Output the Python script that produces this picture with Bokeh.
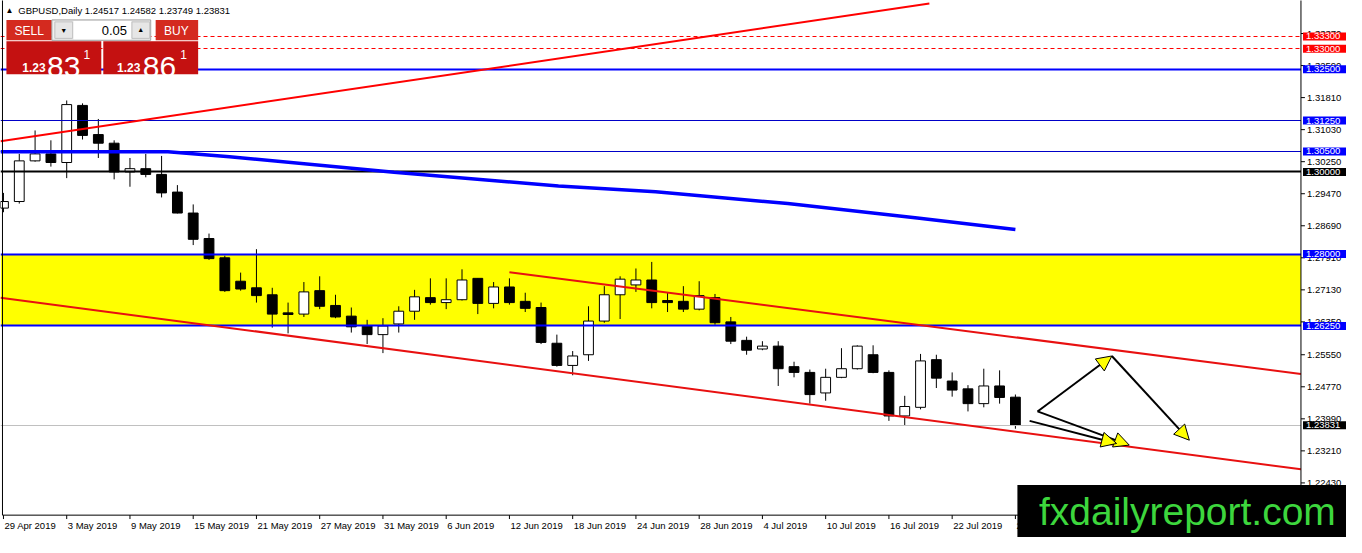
import pandas as pd
from bokeh.plotting import figure
from bokeh.models import BoxAnnotation, Label, Arrow, NormalHead, Range1d, ColumnDataSource
from bokeh.embed import file_html
from bokeh.resources import INLINE

# GBPUSD daily candles, 29 Apr 2019 - 26 Jul 2019
dates = pd.bdate_range("2019-04-29", "2019-07-26")

opens = [1.2912, 1.2928, 1.3027, 1.3044, 1.3023, 1.3162, 1.3091, 1.3070, 1.3000, 1.3008,
         1.2994, 1.2951, 1.2900, 1.2838, 1.2791, 1.2734, 1.2718, 1.2701, 1.2657, 1.2654,
         1.2711, 1.2675, 1.2649, 1.2625, 1.2604, 1.2630, 1.2661, 1.2694, 1.2682, 1.2689,
         1.2741, 1.2680, 1.2720, 1.2685, 1.2670, 1.2583, 1.2529, 1.2555, 1.2637, 1.2701,
         1.2725, 1.2737, 1.2687, 1.2685, 1.2666, 1.2694, 1.2635, 1.2590, 1.2569, 1.2576,
         1.2526, 1.2512, 1.2462, 1.2500, 1.2521, 1.2555, 1.2512, 1.2406, 1.2427, 1.2543,
         1.2491, 1.2472, 1.2436, 1.2479, 1.24517]
highs = [1.2949, 1.3044, 1.3101, 1.3077, 1.3174, 1.3167, 1.3129, 1.3077, 1.3034, 1.3044,
         1.3039, 1.2968, 1.2921, 1.2850, 1.2796, 1.2755, 1.2812, 1.2718, 1.2682, 1.2732,
         1.2746, 1.2701, 1.2670, 1.2640, 1.2644, 1.2673, 1.2713, 1.2741, 1.2741, 1.2763,
         1.2741, 1.2732, 1.2741, 1.2706, 1.2682, 1.2604, 1.2564, 1.2673, 1.2722, 1.2746,
         1.2765, 1.2781, 1.2706, 1.2722, 1.2734, 1.2703, 1.2647, 1.2599, 1.2588, 1.2588,
         1.2538, 1.2519, 1.2521, 1.2571, 1.2578, 1.2578, 1.2517, 1.2455, 1.2557, 1.2555,
         1.2512, 1.2481, 1.2521, 1.2517, 1.24582]
lows = [1.2902, 1.2923, 1.3025, 1.3013, 1.2985, 1.3079, 1.3034, 1.2982, 1.2964, 1.2987,
        1.2938, 1.2899, 1.2822, 1.2786, 1.2708, 1.2711, 1.2682, 1.2621, 1.2607, 1.2647,
        1.2666, 1.2644, 1.2609, 1.2581, 1.2559, 1.2609, 1.2640, 1.2677, 1.2666, 1.2687,
        1.2654, 1.2668, 1.2677, 1.2659, 1.2581, 1.2526, 1.2505, 1.2540, 1.2633, 1.2642,
        1.2708, 1.2668, 1.2659, 1.2659, 1.2663, 1.2628, 1.2581, 1.2555, 1.2566, 1.2479,
        1.2500, 1.2436, 1.2443, 1.2498, 1.2519, 1.2510, 1.2394, 1.2382, 1.2422, 1.2474,
        1.2453, 1.2417, 1.2427, 1.2436, 1.23749]
closes = [1.2928, 1.3027, 1.3044, 1.3023, 1.3164, 1.3089, 1.3070, 1.3000, 1.3008, 1.2994,
          1.2949, 1.2900, 1.2836, 1.2789, 1.2711, 1.2715, 1.2699, 1.2654, 1.2653, 1.2708,
          1.2673, 1.2647, 1.2623, 1.2604, 1.2625, 1.2661, 1.2696, 1.2682, 1.2689, 1.2737,
          1.2680, 1.2720, 1.2682, 1.2668, 1.2585, 1.2529, 1.2552, 1.2637, 1.2701, 1.2739,
          1.2737, 1.2682, 1.2682, 1.2666, 1.2699, 1.2633, 1.2588, 1.2566, 1.2576, 1.2521,
          1.2512, 1.2458, 1.2500, 1.2521, 1.2576, 1.2512, 1.2406, 1.2429, 1.2540, 1.2498,
          1.2469, 1.2436, 1.2479, 1.2451, 1.23831]

date_ticks = list(range(0, 65, 4))
date_labels = ["29 Apr 2019", "3 May 2019", "9 May 2019", "15 May 2019", "21 May 2019",
               "27 May 2019", "31 May 2019", "6 Jun 2019", "12 Jun 2019", "18 Jun 2019",
               "24 Jun 2019", "28 Jun 2019", "4 Jul 2019", "10 Jul 2019", "16 Jul 2019",
               "22 Jul 2019", "26 Jul 2019"]
price_ticks = [1.22430, 1.23210, 1.23990, 1.24770, 1.25550, 1.26350, 1.27130, 1.27910,
               1.28690, 1.29470, 1.30250, 1.31030, 1.31810, 1.32590, 1.33370]

# horizontal levels
level_prices = [1.33300, 1.33000, 1.32500, 1.31250, 1.30500, 1.30000, 1.28000, 1.26250, 1.23831]
level_colors = ["#ff0000", "#ff0000", "#0000ff", "#0000ff", "#0000ff", "#000000", "#0000ff", "#0000ff", "#000000"]
zone_low, zone_high = 1.2625, 1.2800

# trend lines (candle index, price)
rise_x, rise_y = [-0.19, 58.56], [1.3075, 1.3410]
chan_low_x, chan_low_y = [-0.19, 82.06], [1.2694, 1.2276]
chan_up_x, chan_up_y = [32.0, 82.06], [1.2756, 1.2508]
ma_x = [-0.19, 10.4, 14.3, 24.7, 35.1, 41.25, 49.6, 57.8, 64.0]
ma_y = [1.3049, 1.3049, 1.3037, 1.2999, 1.2966, 1.2952, 1.2923, 1.2888, 1.2860]

# projection arrows: (x0, y0, x1, y1)
arrows = [(65.4, 1.2417, 70.1, 1.2552),
          (70.1, 1.2552, 75.0, 1.2347),
          (65.4, 1.2417, 71.2, 1.2335),
          (64.9, 1.2394, 70.4, 1.2339)]

FONT = "Liberation Sans"
W, H = 1346, 537
RW, RH = 1362, 553          # reference picture size
X_MIN, X_MAX = -0.1875, 84.94
Y_MIN, Y_MAX = 1.21101, 1.34174
CHART_LEFT, CHART_RIGHT, CHART_BOTTOM = -0.0625, 82.06, 1.21645

p = figure(width=W, height=H, x_range=Range1d(X_MIN, X_MAX), y_range=Range1d(Y_MIN, Y_MAX),
           output_backend="svg", toolbar_location=None,
           x_axis_location=None, y_axis_location=None,
           min_border=0, min_border_left=0, min_border_right=0, min_border_top=0, min_border_bottom=0)
p.xgrid.visible = False
p.ygrid.visible = False
p.outline_line_color = None
p.background_fill_color = "white"


def sx(X):
    return X * W / RW


def sy(Y):
    return H - Y * H / RH


p.hstrip(y0=[zone_low], y1=[zone_high], fill_color="#ffff00", line_alpha=0)

df = pd.DataFrame(dict(x=range(len(dates)), open=opens, high=highs, low=lows, close=closes))
df["top"] = df[["open", "close"]].max(axis=1)
df["bot"] = df[["open", "close"]].min(axis=1)
df["fill"] = ["white" if c >= o else "black" for o, c in zip(df.open, df.close)]
src = ColumnDataSource(df)
p.segment(x0="x", y0="low", x1="x", y1="high", color="black", line_width=1, source=src)
p.vbar(x="x", top="top", bottom="bot", width=0.62, fill_color="fill", line_color="black", source=src)

for lv, col in zip(level_prices, level_colors):
    if col == "#ff0000":
        p.hspan(y=[lv], line_color=col, line_width=1, line_dash="4 3")
    elif lv == 1.23831:
        p.hspan(y=[lv], line_color="#c0c0c0", line_width=1)
    elif lv in (1.3125, 1.3050):
        p.hspan(y=[lv], line_color="#0000c8", line_width=1)
    else:
        p.hspan(y=[lv], line_color=col, line_width=2)

p.line(ma_x, ma_y, color="#0000ff", line_width=3.5)
p.line(rise_x, rise_y, color="#ff0000", line_width=2)
p.line(chan_low_x, chan_low_y, color="#e81010", line_width=2)
p.line(chan_up_x, chan_up_y, color="#e81010", line_width=2)

# price scale strip on the right, time scale strip at the bottom
p.quad(left=[CHART_RIGHT], right=[X_MAX + 1], bottom=[Y_MIN - 0.01], top=[Y_MAX + 0.01],
       fill_color="white", line_alpha=0)
p.quad(left=[X_MIN - 1], right=[X_MAX + 1], bottom=[Y_MIN - 0.01], top=[CHART_BOTTOM],
       fill_color="white", line_alpha=0)
p.quad(left=[CHART_LEFT], right=[CHART_RIGHT], bottom=[CHART_BOTTOM], top=[Y_MAX + 0.01],
       fill_alpha=0, line_color="black", line_width=1)

tick_len_x = 4 / 16
tick_len_y = 4 / 4230
p.segment(x0=[CHART_RIGHT] * len(price_ticks), y0=price_ticks,
          x1=[CHART_RIGHT + tick_len_x] * len(price_ticks), y1=price_ticks, color="black")
p.segment(x0=date_ticks, y0=[CHART_BOTTOM] * len(date_ticks),
          x1=date_ticks, y1=[CHART_BOTTOM - tick_len_y] * len(date_ticks), color="black")

for x0, y0, x1, y1 in arrows:
    p.add_layout(Arrow(end=NormalHead(size=15, fill_color="#ffff00", line_color="black", line_width=1),
                       x_start=x0, y_start=y0, x_end=x1, y_end=y1, line_color="black", line_width=2))

for t in price_ticks:
    p.add_layout(Label(x=sx(1322), y=t, x_units="screen", y_units="data", text=f"{t:.5f}",
                       text_font=FONT, text_font_size="9.5px", text_color="black",
                       text_align="left", text_baseline="middle"))
for t, lab in zip(date_ticks, date_labels):
    p.add_layout(Label(x=t, y=sy(541), x_units="data", y_units="screen", text=lab,
                       text_font=FONT, text_font_size="9.5px", text_color="black",
                       text_align="left", text_baseline="middle", x_offset=1))

for lv, col in zip(level_prices, level_colors):
    p.add_layout(Label(x=sx(1318), y=lv, x_units="screen", y_units="data", text=f"{lv:.5f}",
                       text_font=FONT, text_font_size="9.5px", text_color="white",
                       text_align="left", text_baseline="middle",
                       background_fill_color=col, background_fill_alpha=1,
                       padding=dict(left=3, right=6, top=1, bottom=1)))


def box(X0, Y0, X1, Y1, fill, line=None):
    p.add_layout(BoxAnnotation(left=sx(X0), right=sx(X1), top=sy(Y0), bottom=sy(Y1),
                               left_units="screen", right_units="screen",
                               top_units="screen", bottom_units="screen",
                               fill_color=fill, fill_alpha=1, line_color=line or fill,
                               line_alpha=1 if line else 0))


def txt(X, Y, s, size, color="black", align="left", baseline="middle", style="normal"):
    p.add_layout(Label(x=sx(X), y=sy(Y), x_units="screen", y_units="screen", text=s,
                       text_font=FONT, text_font_size=size, text_color=color, text_align=align,
                       text_baseline=baseline, text_font_style=style))


# header and one-click trading panel
txt(5, 10, "▲", "8px")
txt(18, 10, "GBPUSD,Daily  1.24517 1.24582 1.23749 1.23831", "9.5px")
box(6, 20, 52, 41, "#d42a1f")
txt(29, 31, "SELL", "12px", "white", "center")
box(52, 20, 152, 41, "#f0f0f0", "#a0a0a0")
box(55, 22, 73, 39, "#e6e6e6", "#c0c0c0")
box(74, 21, 132, 40, "white")
box(133, 22, 151, 39, "#e6e6e6", "#c0c0c0")
txt(64, 31, "▼", "7px", "black", "center")
txt(142, 30, "▲", "7px", "black", "center")
txt(128, 31, "0.05", "13px", "black", "right")
box(157, 20, 200, 41, "#d42a1f")
txt(178, 31, "BUY", "12px", "white", "center")
box(6, 42, 102, 76, "#c41111")
box(104, 42, 200, 76, "#c41111")
txt(22, 69, "1.23", "12px", "white", "left", "alphabetic", "bold")
txt(47, 68, "83", "30px", "white", "left", "alphabetic")
txt(84, 56, "1", "12px", "white", "left", "alphabetic")
txt(118, 69, "1.23", "12px", "white", "left", "alphabetic", "bold")
txt(144, 68, "86", "30px", "white", "left", "alphabetic")
txt(182, 56, "1", "12px", "white", "left", "alphabetic")

# watermark
box(1029, 499, RW, RH, "black")
txt(1201, 526, "fxdailyreport.com", "39px", "#3dd63d", "center", "middle")

open("out.html", "w").write(file_html(p, INLINE))
